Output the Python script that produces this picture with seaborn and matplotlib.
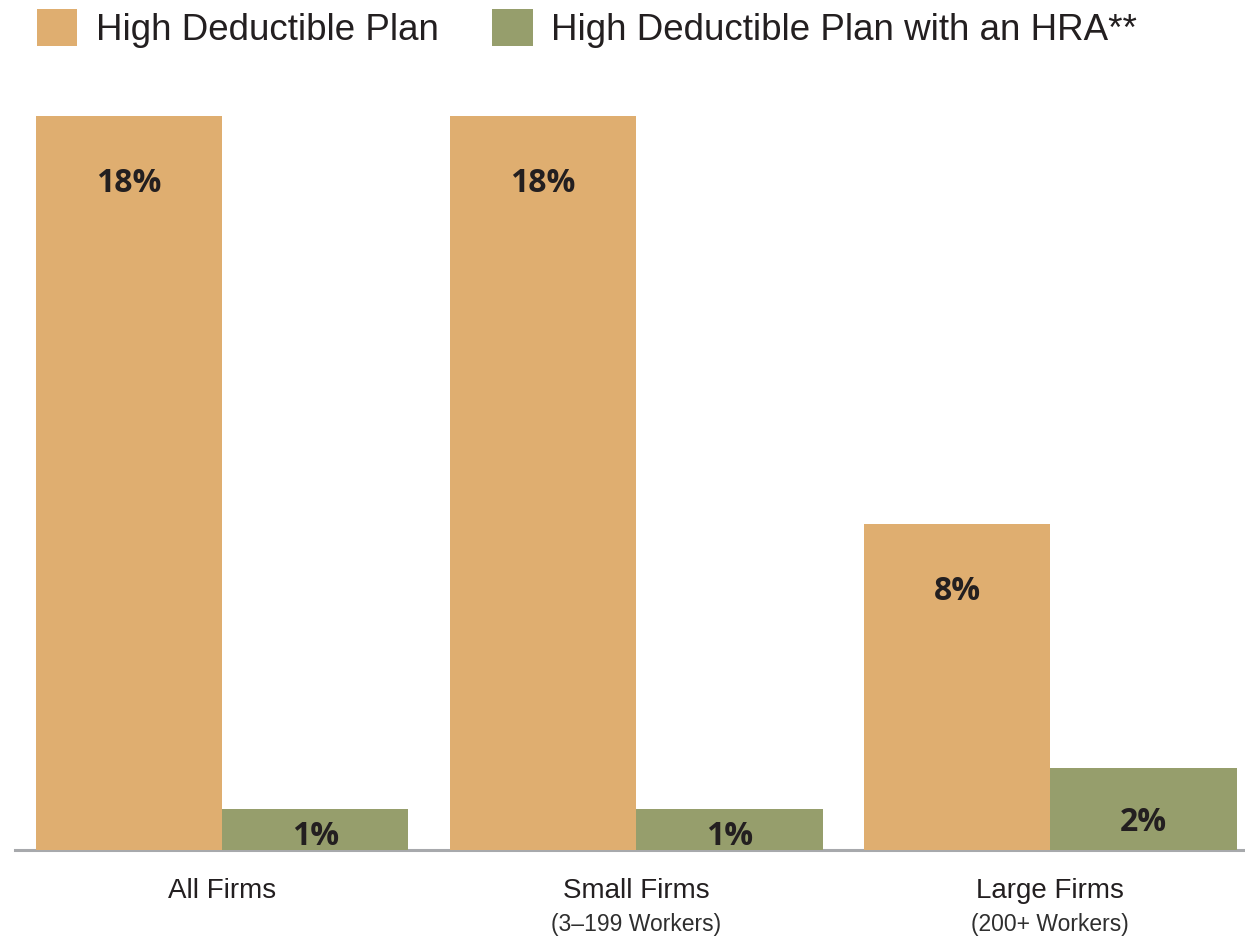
import matplotlib
matplotlib.use("Agg")
import matplotlib.pyplot as plt
import seaborn as sns
import pandas as pd
from matplotlib.patches import Patch
from matplotlib.transforms import blended_transform_factory

# Share of covered workers by plan type and firm size
categories = ["All Firms", "Small Firms", "Large Firms"]
sublabels = ["", "(3\u2013199 Workers)", "(200+ Workers)"]
plans = ["High Deductible Plan", "High Deductible Plan with an HRA**"]
hdp_values = [18, 18, 8]
hra_values = [1, 1, 2]
colors = ["#DFAE70", "#969E6C"]

df = pd.DataFrame({
    "category": categories * 2,
    "plan": [plans[0]] * 3 + [plans[1]] * 3,
    "value": hdp_values + hra_values,
})

sns.set_theme(style="white")
plt.rcParams["font.family"] = ["Liberation Sans", "DejaVu Sans"]

W, H = 1245, 938
fig = plt.figure(figsize=(W / 100, H / 100), dpi=100)
ax = fig.add_axes([15 / W, 1 - 850 / H, 1 - 15 / W, (850 - 116) / H])

sns.barplot(data=df, x="category", y="value", hue="plan", order=categories,
            hue_order=plans, palette=colors, width=0.9, saturation=1,
            linewidth=0, ax=ax, legend=False)

ax.set_xlim(-0.5, 2.47)
ax.set_ylim(0, 18)
ax.set_xlabel("")
ax.set_ylabel("")
ax.set_yticks([])
for s in ["top", "left", "right"]:
    ax.spines[s].set_visible(False)
ax.spines["bottom"].set_color("#A7A9AC")
ax.spines["bottom"].set_linewidth(2.2)
ax.spines["bottom"].set_zorder(0)

# Value labels inside the bars
for container in ax.containers:
    for bar in container:
        v = bar.get_height()
        y = v - 1.66 if v > 4 else v * 0.34
        ax.text(bar.get_x() + bar.get_width() / 2, y, f"{v:.0f}%",
                ha="center", va="center", fontsize=23, fontweight="bold",
                color="#231F20", family=["Open Sans", "DejaVu Sans"])

# Category labels below the axis
ax.set_xticks(range(len(categories)))
ax.set_xticklabels(categories, fontsize=20, color="#231F20")
ax.tick_params(axis="x", length=0, pad=20.5)
trans = blended_transform_factory(ax.transData, ax.transAxes)
for i, sub in enumerate(sublabels):
    if sub:
        ax.text(i, -0.102, sub, transform=trans, ha="center", va="center",
                fontsize=16.5, color="#2F2F2F")

handles = [Patch(facecolor=c, edgecolor="none", label=p) for c, p in zip(colors, plans)]
fig.legend(handles=handles, loc="upper left", bbox_to_anchor=(37 / W, 1 - 9 / H),
           ncol=2, frameon=False, fontsize=26.5, handlelength=1.1, handleheight=1.15,
           handletextpad=0.5, columnspacing=1.45, borderpad=0, borderaxespad=0,
           labelcolor="#231F20")

fig.savefig("out.png", dpi=100)
